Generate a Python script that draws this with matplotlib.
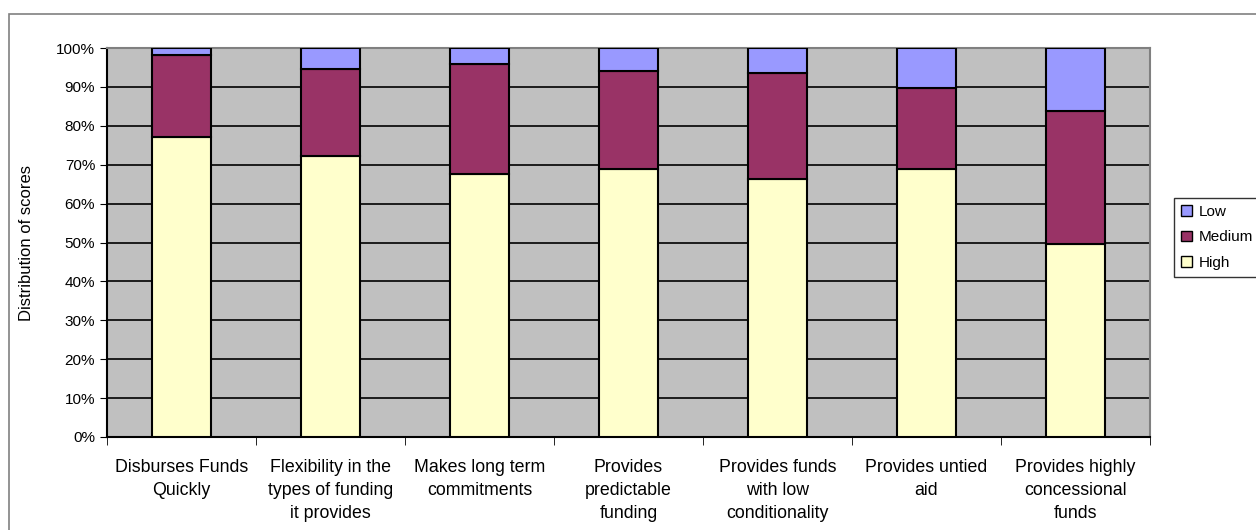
import matplotlib.pyplot as plt
from matplotlib.patches import Rectangle, Patch
from matplotlib.ticker import FixedLocator
import numpy as np

plt.rcParams['font.family'] = ['Liberation Sans', 'DejaVu Sans']

categories = ["Disburses Funds\nQuickly",
              "Flexibility in the\ntypes of funding\nit provides",
              "Makes long term\ncommitments",
              "Provides\npredictable\nfunding",
              "Provides funds\nwith low\nconditionality",
              "Provides untied\naid",
              "Provides highly\nconcessional\nfunds"]
high = [77.2, 72.3, 67.6, 69.0, 66.4, 68.8, 49.7]
medium = [21.0, 22.3, 28.4, 25.0, 27.2, 21.0, 34.1]
low = [1.8, 5.4, 4.0, 6.0, 6.4, 10.2, 16.2]

fig = plt.figure(figsize=(12.56, 5.3), dpi=100)
W, H = 1256, 530
ax = fig.add_axes([107 / W, 1 - 437 / H, (1150 - 107) / W, (437 - 48) / H])

# outer chart frame
fig.patches.append(Rectangle((9 / W, -0.1), 1.2, 1 - 14 / H + 0.1, transform=fig.transFigure,
                             fill=False, edgecolor='#808080', lw=1.2))

x = np.arange(len(categories))
w = 0.4
ax.bar(x, high, w, color='#FFFFCC', edgecolor='black', lw=1.5, label='High', zorder=3)
ax.bar(x, medium, w, bottom=high, color='#993366', edgecolor='black', lw=1.5, label='Medium', zorder=3)
ax.bar(x, low, w, bottom=np.array(high) + np.array(medium), color='#9999FF', edgecolor='black',
       lw=1.5, label='Low', zorder=3)

ax.set_facecolor('#C0C0C0')
ax.set_xlim(-0.5, len(categories) - 0.5)
ax.set_ylim(0, 100)
ax.set_yticks(range(0, 101, 10))
ax.set_yticklabels([f"{v}%" for v in range(0, 101, 10)], fontsize=11)
ax.grid(axis='y', color='black', lw=1.2, zorder=1)
ax.set_xticks(x)
ax.set_xticklabels(categories, fontsize=12.8, linespacing=1.45)
ax.tick_params(axis='x', length=0, pad=16)
ax.xaxis.set_minor_locator(FixedLocator(np.arange(-0.5, len(categories), 1.0)))
ax.tick_params(axis='x', which='minor', length=6, color='black')
ax.tick_params(axis='y', length=5, color='black')
for s in ax.spines.values():
    s.set_color('#808080')
    s.set_linewidth(1.5)
ax.spines['left'].set_color('black')
ax.spines['bottom'].set_color('black')
ax.set_ylabel("Distribution of scores", fontsize=12, labelpad=16)

handles = [Patch(facecolor='#9999FF', edgecolor='black', label='Low'),
           Patch(facecolor='#993366', edgecolor='black', label='Medium'),
           Patch(facecolor='#FFFFCC', edgecolor='black', label='High')]
leg = fig.legend(handles=handles, loc='upper left', bbox_to_anchor=(1174 / W, 1 - 198 / H),
                 fontsize=11, frameon=True, fancybox=False, handlelength=0.7, handleheight=0.7,
                 handletextpad=0.5, borderpad=0.45, labelspacing=0.75, borderaxespad=0)
leg.get_frame().set_edgecolor('black')
leg.get_frame().set_linewidth(1.0)

fig.savefig("out.png", dpi=100)
